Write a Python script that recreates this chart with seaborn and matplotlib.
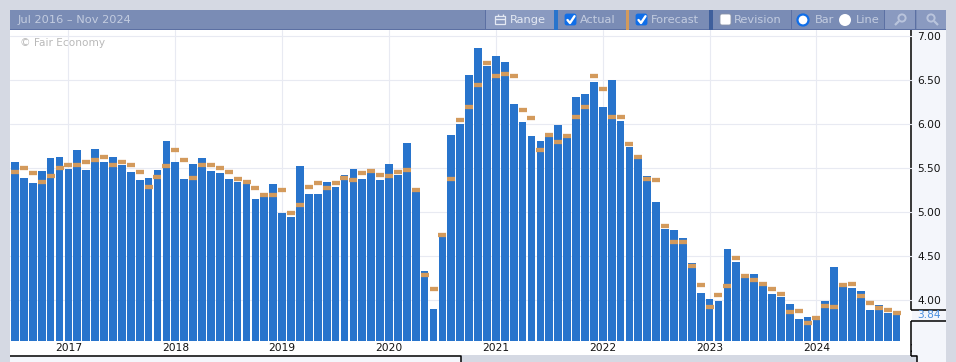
import matplotlib
matplotlib.use("Agg")
import matplotlib.pyplot as plt
import pandas as pd
import seaborn as sns
from matplotlib.patches import Rectangle, FancyBboxPatch, Circle

actual = [5.57, 5.39, 5.33, 5.47, 5.61, 5.62, 5.49, 5.70, 5.48, 5.72,
          5.57, 5.63, 5.53, 5.45, 5.36, 5.39, 5.48, 5.81, 5.57, 5.38,
          5.55, 5.61, 5.47, 5.44, 5.38, 5.34, 5.32, 5.15, 5.22, 5.32,
          4.99, 4.95, 5.52, 5.21, 5.20, 5.34, 5.28, 5.42, 5.49, 5.38,
          5.45, 5.36, 5.55, 5.42, 5.78, 5.23, 4.33, 3.90, 4.72, 5.87,
          6.00, 6.55, 6.86, 6.66, 6.77, 6.70, 6.23, 6.02, 5.86, 5.81,
          5.86, 5.99, 5.89, 6.30, 6.34, 6.47, 6.19, 6.50, 6.03, 5.74,
          5.61, 5.41, 5.12, 4.81, 4.80, 4.71, 4.42, 4.08, 4.02, 3.99,
          4.58, 4.44, 4.25, 4.30, 4.16, 4.07, 4.04, 3.96, 3.79, 3.81,
          3.78, 3.99, 4.38, 4.15, 4.14, 4.11, 3.89, 3.95, 3.86, 3.84]

forecast = [5.46, 5.50, 5.44, 5.34, 5.41, 5.50, 5.53, 5.53, 5.57, 5.59,
            5.63, 5.53, 5.57, 5.53, 5.45, 5.28, 5.40, 5.52, 5.71, 5.59,
            5.39, 5.53, 5.54, 5.50, 5.45, 5.38, 5.34, 5.27, 5.19, 5.19,
            5.25, 4.99, 5.08, 5.29, 5.33, 5.27, 5.33, 5.39, 5.37, 5.44,
            5.47, 5.42, 5.41, 5.45, 5.48, 5.25, 4.29, 4.13, 4.74, 5.38,
            6.04, 6.19, 6.44, 6.69, 6.54, 6.57, 6.54, 6.16, 6.07, 5.70,
            5.88, 5.80, 5.86, 6.08, 6.19, 6.54, 6.40, 6.08, 6.08, 5.77,
            5.63, 5.38, 5.36, 4.84, 4.66, 4.66, 4.39, 4.17, 3.92, 4.06,
            4.16, 4.48, 4.28, 4.23, 4.19, 4.13, 4.07, 3.87, 3.88, 3.74,
            3.80, 3.94, 3.92, 4.17, 4.19, 4.05, 3.97, 3.91, 3.89, 3.86]

years = ["2017", "2018", "2019", "2020", "2021", "2022", "2023", "2024"]
y_ticks = [4.0, 4.5, 5.0, 5.5, 6.0, 6.5, 7.0]

df = pd.DataFrame({"month": pd.date_range("2016-07-01", periods=len(actual), freq="MS"),
                   "actual": actual, "forecast": forecast})
df["label"] = df["month"].dt.strftime("%Y-%m")

W, H = 956, 362
BAR = "#2874cc"
ORANGE = "#d39a5c"
HEAD = "#7a8cb5"
TXT = "#c3cce0"

sns.set_style("white")
plt.rcParams["font.family"] = ["DejaVu Sans"]

fig = plt.figure(figsize=(W / 100, H / 100), dpi=100, facecolor="#d5d9e3")

# chrome is drawn in plain pixel coordinates, behind the chart
bg = fig.add_axes([0, 0, 1, 1], zorder=0)
bg.set_xlim(0, W)
bg.set_ylim(H, 0)
bg.axis("off")


def box(x0, y0, x1, y1, color, z=1):
    bg.add_patch(Rectangle((x0, y0), x1 - x0, y1 - y0, fc=color, ec="none", lw=0, zorder=z))


def line(xs, ys, color="black", lw=1.1):
    bg.plot(xs, ys, color=color, lw=lw, solid_capstyle="butt", zorder=5)


def tick_box(x, y, checked=True):
    col = "#0f6ee8" if checked else "white"
    bg.add_patch(FancyBboxPatch((x + 1, y + 1), 11, 11, boxstyle="round,pad=0,rounding_size=2",
                                fc=col, ec="#8a93a8" if not checked else col, lw=0.6, zorder=4))
    if checked:
        bg.plot([x + 3.5, x + 6, x + 10.5], [y + 7, y + 10, y + 3.2], color="white", lw=1.7, zorder=5)


box(10, 30, 912, 355, "white", 0.5)
box(912, 30, 946, 355, "#f4f6fb")
box(10, 355, 461, H, "#f4f6fb")
box(917, 355, 946, H, "#f4f6fb")

box(10, 10, 946, 30, HEAD, 2)
box(10, 29, 946, 30, "#5c70a3", 3)
box(486, 10, 554, 30, "#8a9ac0", 2)
box(554, 10, 558, 30, BAR, 3)
box(626, 10, 629, 30, ORANGE, 3)
box(709, 10, 713, 30, "#3f5f9c", 3)
box(885, 10, 915, 30, "#8a9ac0", 2)
box(917, 10, 946, 30, "#8a9ac0", 2)
for px in [485, 791, 884, 915]:
    box(px, 10, px + 1, 29, "#5c70a3", 3)

bg.text(18, 20, "Jul 2016 – Nov 2024", color=TXT, fontsize=8.2, va="center", zorder=6)
bg.text(510, 20, "Range", color="#e4e9f3", fontsize=8.2, va="center", zorder=6)
bg.text(580, 20, "Actual", color=TXT, fontsize=8.2, va="center", zorder=6)
bg.text(651, 20, "Forecast", color=TXT, fontsize=8.2, va="center", zorder=6)
bg.text(734, 20, "Revision", color=TXT, fontsize=8.2, va="center", zorder=6)
bg.text(815, 20, "Bar", color=TXT, fontsize=8.2, va="center", zorder=6)
bg.text(856, 20, "Line", color=TXT, fontsize=8.2, va="center", zorder=6)

tick_box(564, 13)
tick_box(635, 13)
tick_box(719, 13, checked=False)
bg.add_patch(Circle((803, 20), 5.5, fc="white", ec="#0f6ee8", lw=1.6, zorder=5))
bg.add_patch(Circle((845, 20), 6, fc="white", ec="none", lw=0, zorder=5))

# range calendar and zoom icons
bg.add_patch(Rectangle((495.5, 16), 10, 7.5, fc="none", ec="#e4e9f3", lw=0.9, zorder=5))
line([495.5, 505.5], [19, 19], "#e4e9f3", 1)
line([498, 498], [14, 16], "#e4e9f3", 1)
line([503, 503], [14, 16], "#e4e9f3", 1)
for cx in [902, 931]:
    bg.add_patch(Circle((cx, 18), 3.6, fc="none", ec="#b9c4dc", lw=1.4, zorder=5))
line([899, 895], [21, 25], "#b9c4dc", 1.6)
line([934, 938], [21, 25], "#b9c4dc", 1.6)

# black frame around the price scale
line([911.5, 911.5], [30, 309.5])
line([911.5, 946], [309.5, 309.5])
line([911.5, 946], [320.5, 320.5])
line([911.5, 911.5], [320.5, 355.5])
line([911.5, 917, 917], [355.5, 355.5, H])
line([10, 461.5, 461.5], [355.5, 355.5, H])

bg.text(929, 315, "3.84", color="#4a8fe0", fontsize=7.7, ha="center", va="center", zorder=6)
# next year's label is cut off by the scale panel drawn over it
bg.text(923, 348.5, "2025", color="#111111", fontsize=7.7, ha="center", va="center", zorder=0.8)

# main chart
ax = fig.add_axes([10 / W, (H - 341) / H, 902 / W, 311 / H], zorder=1)
ax.patch.set_alpha(0)

sns.barplot(data=df, x="label", y="actual", color=BAR, saturation=1, width=0.87, linewidth=0, ax=ax, zorder=2)
xs = range(len(df))
ax.hlines(df["forecast"], [i - 0.45 for i in xs], [i + 0.45 for i in xs],
          color=ORANGE, lw=3.1, zorder=3)

ax.set_xlim(-0.56, 100.73)
ax.set_ylim(3.539, 7.065)
ax.set_xticks([list(df["label"]).index(y + "-01") for y in years])
ax.set_xticklabels(years)
ax.set_yticks(y_ticks)
ax.set_yticklabels([f"{v:.2f}" for v in y_ticks])
ax.yaxis.tick_right()
ax.tick_params(axis="both", length=0, labelsize=7.7, labelcolor="#111111")
ax.tick_params(axis="x", pad=1.6)
ax.tick_params(axis="y", pad=3.6)
ax.set_xlabel("")
ax.set_ylabel("")
ax.set_axisbelow(True)
ax.grid(True, color="#e8eaf2", lw=0.8)
sns.despine(ax=ax, left=True, bottom=True)
bg.text(20, 43.5, "© Fair Economy", color="#b9b9b9", fontsize=7.6, va="center", zorder=6)

fig.savefig("out.png", dpi=100, facecolor=fig.get_facecolor())
